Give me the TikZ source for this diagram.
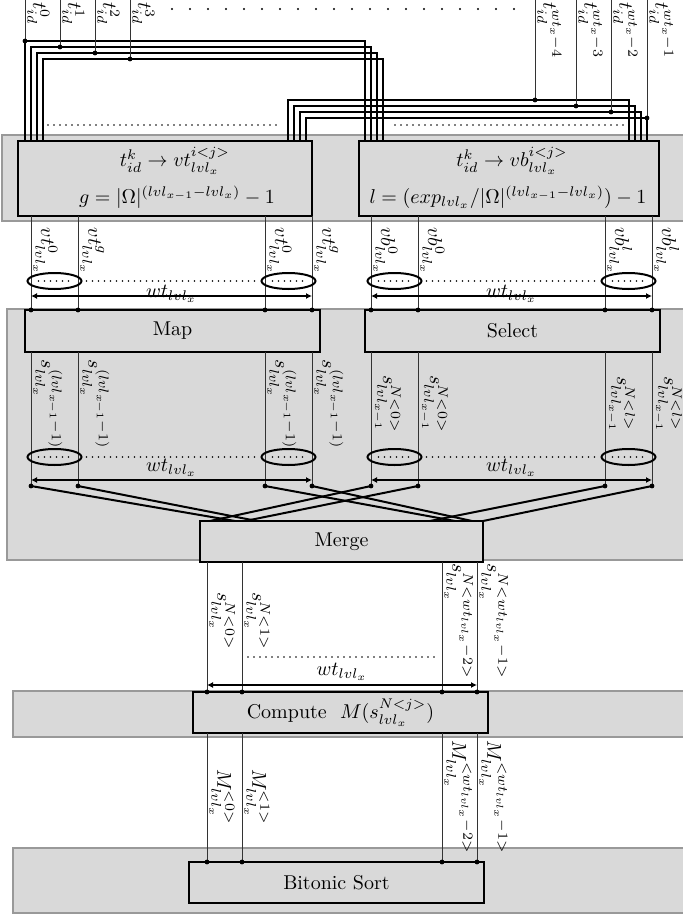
\documentclass[tikz,border=0pt]{standalone}
\usetikzlibrary{arrows.meta,shapes.geometric}
\begin{document}
\begin{tikzpicture}[x=0.5pt,y=-0.5pt,>=Latex,
band/.style={fill=black!15,draw=black!40,line width=0.6pt},
block/.style={draw,line width=1pt,fill=black!15,align=center,inner sep=0pt},
formula/.style={inner sep=0pt},
wire/.style={line width=1pt},
sig/.style={black!80,line width=0.4pt},
ell/.style={draw,line width=1pt,ellipse,minimum width=27pt,minimum height=8pt,inner sep=0pt},
lbl/.style={rotate=-90,anchor=south,inner sep=1pt},
toplbl/.style={rotate=-90,anchor=south west,inner sep=1pt},
dots/.style={line width=0.9pt,line cap=round,dash pattern=on 0pt off 3pt},
bigdots/.style={line width=1.2pt,line cap=round,dash pattern=on 0pt off 9pt},
dim/.style={line width=0.8pt,{Latex[length=3pt,width=3pt]}-{Latex[length=3pt,width=3pt]}}]
\useasboundingbox (0,0) rectangle (683,916);
% background bands
\draw[band] (2,135) rectangle (700,221);
\draw[band] (7,309) rectangle (700,560);
\draw[band] (13,691) rectangle (700,737);
\draw[band] (13,848) rectangle (700,913);

% blocks
\node[block,minimum width=147pt,minimum height=37.5pt] (vt) at (165,178.5) {};
\node[formula] (vtf1) at (175,161) {$t^k_{id}\rightarrow vt^{i<j>}_{lvl_x}$};
\node[formula] (vtf2) at (177,197) {$g=|\Omega|^{(lvl_{x-1}-lvl_x)}-1$};
\node[block,minimum width=150pt,minimum height=37.5pt] (vb) at (509,178.5) {};
\node[formula] (vbf1) at (512,161) {$t^k_{id}\rightarrow vb^{i<j>}_{lvl_x}$};
\node[formula] (vbf2) at (508,197) {$l=(exp_{lvl_x}/|\Omega|^{(lvl_{x-1}-lvl_x)})-1$};
\node[block,minimum width=147.5pt,minimum height=21pt] (map) at (172.5,331) {Map};
\node[block,minimum width=147.5pt,minimum height=21pt] (sel) at (512.5,331) {Select};
\node[block,minimum width=141.5pt,minimum height=20.5pt] (merge) at (341.5,541.5) {Merge};
\node[block,minimum width=147.5pt,minimum height=20.5pt] (comp) at (340.5,712.5) {Compute\ \ $M(s^{N<j>}_{lvl_x})$};
\node[block,minimum width=147.5pt,minimum height=20.5pt] (sort) at (336.5,882.5) {Bitonic Sort};

% input ids, first group
\foreach \k/\xa/\xb/\xt/\y/\s in {0/25/365/25/41/{t^0_{id}},1/31/371/60/47/{t^1_{id}},2/37/377/95/53/{t^2_{id}},3/43/383/130/59/{t^3_{id}}}{
  \coordinate (a\k) at (\xa,141);
  \coordinate (b\k) at (\xb,141);
  \coordinate (t\k) at (\xt,\y);
  \coordinate (tt\k) at (\xt,0);
  \draw[wire] (a\k) |- (t\k) -| (b\k);
  \draw[sig] (tt\k) -- (t\k);
  \fill (t\k) circle (1.2pt);
  \node[toplbl] (tl\k) at (tt\k) {$\s$};
}
% input ids, last group
\foreach \k/\xa/\xb/\xt/\y/\s in {0/288/629/535/100/{t^{wt_x-4}_{id}},1/294/635/576/106/{t^{wt_x-3}_{id}},2/300/641/611/112/{t^{wt_x-2}_{id}},3/306/647/647/118/{t^{wt_x-1}_{id}}}{
  \coordinate (c\k) at (\xa,141);
  \coordinate (d\k) at (\xb,141);
  \coordinate (u\k) at (\xt,\y);
  \coordinate (uu\k) at (\xt,0);
  \draw[wire] (c\k) |- (u\k) -| (d\k);
  \draw[sig] (uu\k) -- (u\k);
  \fill (u\k) circle (1.2pt);
  \node[toplbl] (ul\k) at (uu\k) {$\s$};
}
\draw[bigdots] (172,9) -- (517,9);
\draw[dots] (48,125) -- (280,125);
\draw[dots] (395,125) -- (625,125);

% vt / vb outputs
\foreach \x/\s [count=\k] in {31/{vt^0_{lvl_x}},78/{vt^g_{lvl_x}},265/{vt^0_{lvl_x}},312/{vt^g_{lvl_x}}}{
  \coordinate (vto\k) at (\x,216);
  \coordinate (mpi\k) at (\x,310);
  \draw[sig] (vto\k) -- (mpi\k);
  \fill (mpi\k) circle (1.2pt);
  \node[lbl] (vtl\k) at (\x,251) {$\s$};
}
\foreach \x/\s [count=\k] in {371/{vb^0_{lvl_x}},418/{vb^0_{lvl_x}},605/{vb^l_{lvl_x}},652/{vb^l_{lvl_x}}}{
  \coordinate (vbo\k) at (\x,216);
  \coordinate (sli\k) at (\x,310);
  \draw[sig] (vbo\k) -- (sli\k);
  \fill (sli\k) circle (1.2pt);
  \node[lbl] (vbl\k) at (\x,251) {$\s$};
}
\node[ell] (ea1) at (54.5,281) {};
\node[ell] (ea2) at (288.5,281) {};
\node[ell] (eb1) at (394.5,281) {};
\node[ell] (eb2) at (628.5,281) {};
\foreach \e in {ea1,ea2,eb1,eb2}
  \draw[dots] ([xshift=-8pt]\e.center) -- ([xshift=8pt]\e.center);
\draw[dots,shorten <=2pt,shorten >=2pt] (ea1.east) -- (ea2.west);
\draw[dots,shorten <=2pt,shorten >=2pt] (eb1.east) -- (eb2.west);
\draw[dim] (vto1 |- ea1.south) ++(0,6) coordinate (wa1) -- (wa1 -| vto4);
\draw[dim] (vbo1 |- eb1.south) ++(0,6) coordinate (wb1) -- (wb1 -| vbo4);
\node (wta) at (171.5,294) {$wt_{lvl_x}$};
\node (wtb) at (511.5,294) {$wt_{lvl_x}$};

% map / select outputs
\foreach \x/\s [count=\k] in {31/{s^{(lvl_{x-1}-1)}_{lvl_x}},78/{s^{(lvl_{x-1}-1)}_{lvl_x}},265/{s^{(lvl_{x-1}-1)}_{lvl_x}},312/{s^{(lvl_{x-1}-1)}_{lvl_x}}}{
  \coordinate (mpo\k) at (\x,352);
  \coordinate (mo\k) at (\x,486);
  \draw[sig] (mpo\k) -- (mo\k);
  \fill (mo\k) circle (1.2pt);
  \node[lbl] (mpl\k) at (\x,404) {$\s$};
}
\foreach \x/\s [count=\k] in {371/{s^{N<0>}_{lvl_{x-1}}},418/{s^{N<0>}_{lvl_{x-1}}},605/{s^{N<l>}_{lvl_{x-1}}},652/{s^{N<l>}_{lvl_{x-1}}}}{
  \coordinate (slo\k) at (\x,352);
  \coordinate (so\k) at (\x,486);
  \draw[sig] (slo\k) -- (so\k);
  \fill (so\k) circle (1.2pt);
  \node[lbl] (sll\k) at (\x,404) {$\s$};
}
\node[ell] (ec1) at (54.5,457) {};
\node[ell] (ec2) at (288.5,457) {};
\node[ell] (ed1) at (394.5,457) {};
\node[ell] (ed2) at (628.5,457) {};
\foreach \e in {ec1,ec2,ed1,ed2}
  \draw[dots] ([xshift=-8pt]\e.center) -- ([xshift=8pt]\e.center);
\draw[dots,shorten <=2pt,shorten >=2pt] (ec1.east) -- (ec2.west);
\draw[dots,shorten <=2pt,shorten >=2pt] (ed1.east) -- (ed2.west);
\draw[dim] (mpo1 |- ec1.south) ++(0,14) coordinate (wc1) -- (wc1 -| mpo4);
\draw[dim] (slo1 |- ed1.south) ++(0,14) coordinate (wd1) -- (wd1 -| slo4);
\node (wtc) at (171.5,468) {$wt_{lvl_x}$};
\node (wtd) at (511.5,468) {$wt_{lvl_x}$};

% into merge
\foreach \x [count=\k] in {210,235,245,257,430,455,472,483}
  \coordinate (mg\k) at (\x,521);
\draw[wire] (mo1) -- (mg2) (mo2) -- (mg4) (mo3) -- (mg6) (mo4) -- (mg7);
\draw[wire] (so1) -- (mg1) (so2) -- (mg3) (so3) -- (mg5) (so4) -- (mg8);

% merge outputs
\foreach \x/\s [count=\k] in {207/{s^{N<0>}_{lvl_x}},242/{s^{N<1>}_{lvl_x}},442/{s^{N<wt_{lvl_x}-2>}_{lvl_x}},477/{s^{N<wt_{lvl_x}-1>}_{lvl_x}}}{
  \coordinate (mgo\k) at (\x,562);
  \coordinate (ci\k) at (\x,692);
  \draw[sig] (mgo\k) -- (ci\k);
  \fill (ci\k) circle (1.2pt);
  \node[lbl] (mgl\k) at (\x,621) {$\s$};
}
\draw[dots] (248,657) -- (437,657);
\node (wte) at (342,672) {$wt_{lvl_x}$};
\draw[dim] (207,685) coordinate (we1) -- (we1 -| ci4);

% compute outputs
\foreach \x/\s [count=\k] in {207/{M^{<0>}_{lvl_x}},242/{M^{<1>}_{lvl_x}},442/{M^{<wt_{lvl_x}-2>}_{lvl_x}},477/{M^{<wt_{lvl_x}-1>}_{lvl_x}}}{
  \coordinate (co\k) at (\x,733);
  \coordinate (bi\k) at (\x,862);
  \draw[sig] (co\k) -- (bi\k);
  \fill (bi\k) circle (1.2pt);
  \node[lbl] (cl\k) at (\x,797) {$\s$};
}
\end{tikzpicture}
\end{document}
